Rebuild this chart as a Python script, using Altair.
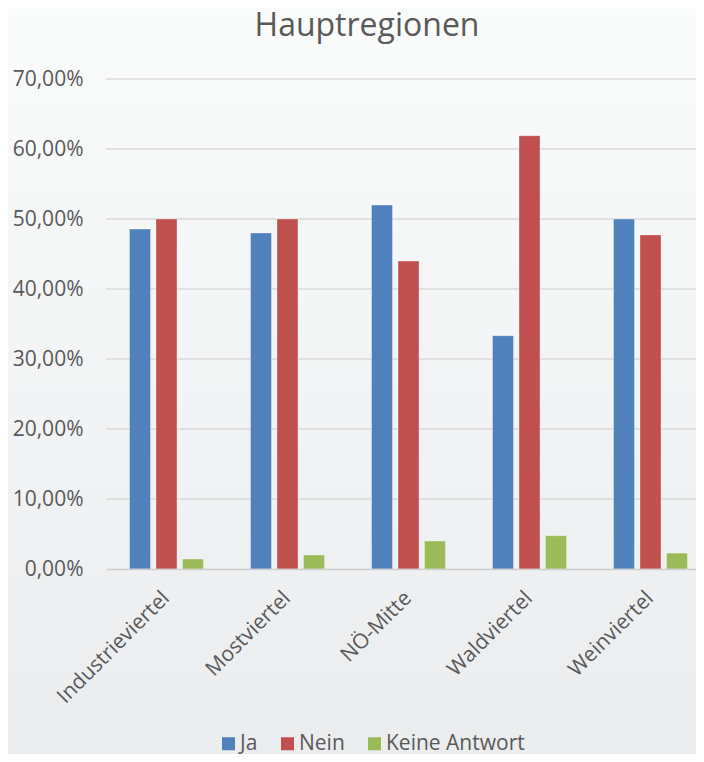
import altair as alt
import pandas as pd

title_text = ["Hauptregionen"]
regions = ["Industrieviertel", "Mostviertel", "NÖ-Mitte", "Waldviertel", "Weinviertel"]
answers = ["Ja", "Nein", "Keine Antwort"]
ja = [0.4857, 0.4800, 0.5200, 0.3333, 0.5000]
nein = [0.5000, 0.5000, 0.4400, 0.6190, 0.4773]
keine = [0.0143, 0.0200, 0.0400, 0.0476, 0.0227]
colors = ["#4F81BD", "#C0504D", "#9BBB59"]
y_ticks = [0, 0.1, 0.2, 0.3, 0.4, 0.5, 0.6, 0.7]

rows = []
for i, r in enumerate(regions):
    for a, vals in zip(answers, [ja, nein, keine]):
        rows.append({"Region": r, "Antwort": a, "Wert": vals[i]})
df = pd.DataFrame(rows)
grid_df = pd.DataFrame({"Wert": y_ticks[1:]})

W, H = 590, 490
FONT = "Open Sans"
TXT = "#595959"

bg = alt.Chart(pd.DataFrame({"a": [0]})).mark_rect(
    fill=alt.Gradient(
        gradient="linear", x1=0, y1=0, x2=0, y2=1,
        stops=[alt.GradientStop(color="#fafbfb", offset=0),
               alt.GradientStop(color="#eaecee", offset=1)],
    ),
    clip=False,
).encode(
    x=alt.value(-98), x2=alt.value(W + 10),
    y=alt.value(-71), y2=alt.value(H + 190),
)

title = alt.Chart(pd.DataFrame({"t": title_text})).mark_text(
    font=FONT, fontSize=32, color=TXT, align="center", baseline="alphabetic"
).encode(
    text="t:N", x=alt.value(261), y=alt.value(-43)
)

grid = alt.Chart(grid_df).mark_rule(color="#d9d9d9", strokeWidth=1.5).encode(
    y=alt.Y("Wert:Q", title=None)
)

bars = alt.Chart(df).mark_bar(
    stroke="#ffffff", strokeWidth=1, strokeOpacity=0.35
).encode(
    x=alt.X("Region:N", sort=regions, title=None,
            scale=alt.Scale(range=[0, 605], paddingInner=0, paddingOuter=0),
            axis=alt.Axis(labelAngle=-45, labelAlign="right", labelBaseline="top",
                          ticks=False, labelPadding=18, labelOffset=-8,
                          domainColor="#d0d0d0",
                          domainWidth=1.5, labelFontSize=21, labelFont=FONT,
                          labelColor=TXT, grid=False, zindex=1)),
    xOffset=alt.XOffset("Antwort:N", sort=answers,
                        scale=alt.Scale(paddingInner=0.2075, paddingOuter=0.887)),
    y=alt.Y("Wert:Q", title=None,
            scale=alt.Scale(domain=[0, 0.7], nice=False),
            axis=alt.Axis(values=y_ticks, labelExpr="replace(format(datum.value, '.2%'), '.', ',')",
                          ticks=False, domain=False, labelPadding=23, labelFontSize=21,
                          labelFont=FONT, labelColor=TXT, grid=False, zindex=1)),
    color=alt.Color("Antwort:N", sort=answers,
                    scale=alt.Scale(domain=answers, range=colors),
                    legend=alt.Legend(title=None, orient="none", direction="horizontal",
                                      legendX=112, legendY=654, symbolType="square",
                                      symbolSize=169, symbolStrokeWidth=0,
                                      labelFontSize=21, labelFont=FONT, labelColor=TXT,
                                      labelOffset=1, columnPadding=19, padding=0,
                                      zindex=1)),
)

chart = alt.layer(bg, title, grid, bars).properties(
    width=W, height=H,
    autosize=alt.AutoSizeParams(type="none"),
    padding={"left": 98, "top": 71, "right": 0, "bottom": 185},
).configure_view(stroke=None).configure(background="#f3f4f5")

chart.save("out.html", embed_options={"renderer": "svg", "actions": False})
